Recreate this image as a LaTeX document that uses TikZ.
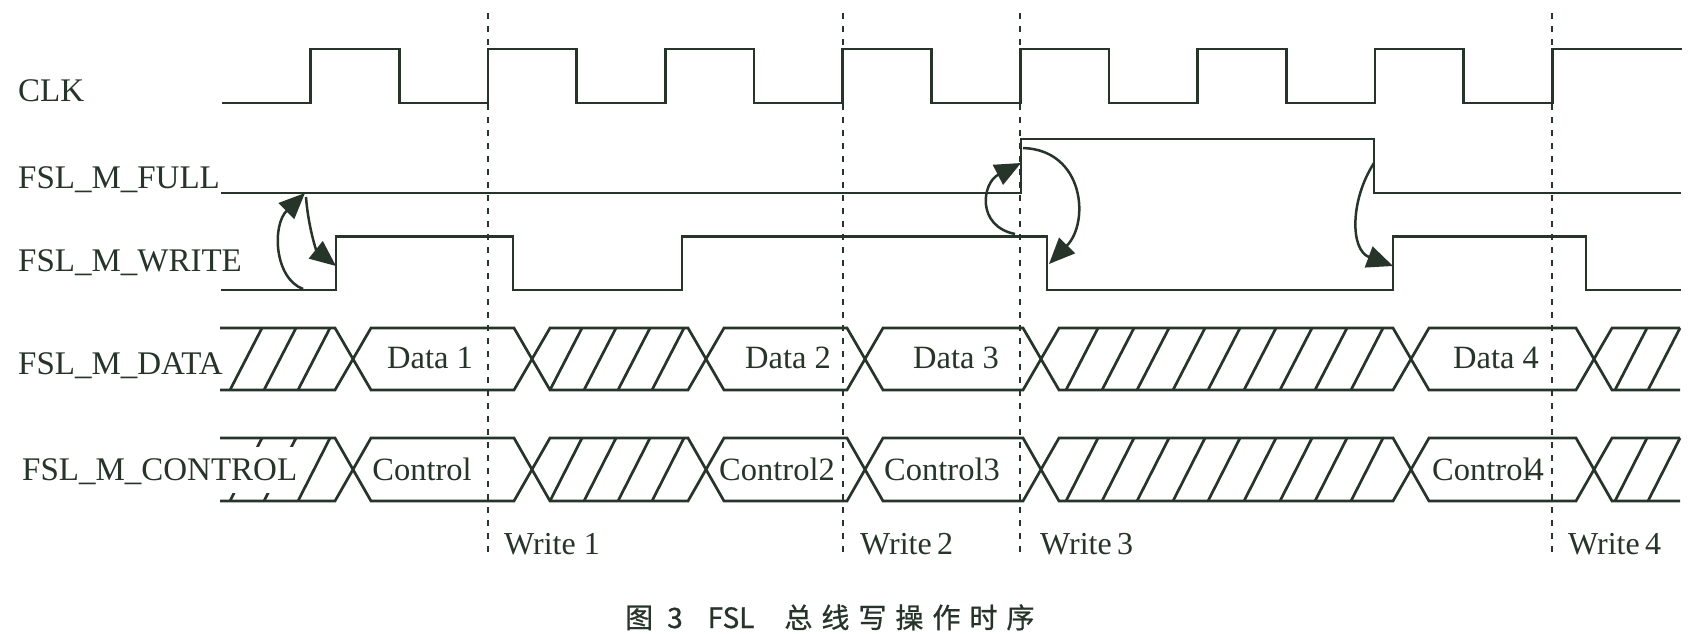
\documentclass[tikz,border=0pt]{standalone}
\usepackage{fontspec}
\setmainfont{Liberation Serif}
\newfontfamily\cjkfont[FakeBold=0.8]{Noto Sans CJK SC}
\usetikzlibrary{arrows.meta}
\definecolor{ink}{RGB}{38,52,42}
\newcommand\busrow[2]{%
  \draw[sig] (220,#1) -- (335,#1) -- (371,#2) -- (514,#2) -- (550,#1) -- (688,#1) -- (724,#2) -- (847,#2) -- (883,#1) -- (1023,#1) -- (1059,#2) -- (1393,#2) -- (1429,#1) -- (1576,#1) -- (1612,#2) -- (1680,#2);
  \draw[sig] (220,#2) -- (335,#2) -- (371,#1) -- (514,#1) -- (550,#2) -- (688,#2) -- (724,#1) -- (847,#1) -- (883,#2) -- (1023,#2) -- (1059,#1) -- (1393,#1) -- (1429,#2) -- (1576,#2) -- (1612,#1) -- (1680,#1);
  \foreach \b in {230,264,298,550,584,618,652,1066,1102,1137,1173,1208,1244,1280,1315,1351,1615,1648}
    \draw[sig] (\b,#2) -- ({\b+32},#1);
}
\begin{document}
\begin{tikzpicture}[x=1pt,y=-1pt,
  sig/.style={draw=ink,line width=2.7pt},
  guide/.style={draw=ink,line width=2.8pt,dash pattern=on 6pt off 7pt},
  lab/.style={text=ink,font=\fontsize{33}{33}\selectfont,inner sep=0pt,anchor=base west},
  val/.style={text=ink,font=\fontsize{32.5}{33}\selectfont,inner sep=0pt,anchor=base},
  wlab/.style={text=ink,font=\fontsize{32}{33}\selectfont,inner sep=0pt,anchor=base west},
  cause/.style={draw=ink,line width=2.5pt,-{Triangle[length=26pt,width=22pt]}},
]
\useasboundingbox (0,0) rectangle (1696,633);
\fill[white] (0,0) rectangle (1696,633);

% dotted write markers
\foreach \x/\n in {488/1,843/2,1020/3,1552/4}{
  \coordinate (g\n top) at (\x,13);
  \coordinate (g\n bot) at (\x,553);
  \draw[guide] (g\n top) -- (g\n bot);
}

% labels
\node[lab] (clk) at (18,101) {CLK};
\node[lab] (full) at (18,188) {FSL\_M\_FULL};
\node[lab] (write) at (18,271) {FSL\_M\_WRITE};
\node[lab] (data) at (18,374) {FSL\_M\_DATA};

% CLK
\draw[sig] (222,103) -| (310.6,49) -| (399.3,103) -| (488,49) -| (576.7,103) -| (665.4,49) -| (754.1,103) -| (842.8,49) -| (931.5,103) -| (1020.2,49) -| (1108.9,103) -| (1197.6,49) -| (1286.3,103) -| (1375,49) -| (1463.7,103) -| (1552.4,49) -- (1682,49);
% FULL
\draw[sig] (221,193) -| (1021,139) -| (1374,193) -- (1681,193);
% WRITE
\draw[sig] (221,290) -| (336,236.5) -| (513,290) -| (682,236.5) -| (1047,290) -| (1393,236.5) -| (1586,290) -- (1681,290);

% buses
\busrow{328}{390}
\busrow{438}{501}
\node[lab,fill=white,text height=33pt,text depth=13pt] (ctrl) at (22,480) {FSL\_M\_CONTROL};

% bus values
\node[val] (d1) at (430,368) {Data 1};
\node[val] (d2) at (788,368) {Data 2};
\node[val] (d3) at (956,368) {Data 3};
\node[val] (d4) at (1496,368) {Data 4};
\node[val] (c1) at (422,480) {Control};
\node[val] (c2) at (777,480) {Control2};
\node[val] (c3) at (942,480) {Control3};
\node[val] (c4) at (1488,480) {Control\kern-4pt4};

% write labels
\node[wlab] (w1) at (504,554) {Write 1};
\node[wlab] (w2) at (860,554) {Write\,2};
\node[wlab] (w3) at (1040,554) {Write\,3};
\node[wlab] (w4) at (1568,554) {Write\,4};

% causality arrows
\coordinate (a1s) at (303,289);
\coordinate (a1e) at (305,193);
\draw[cause] (a1s) .. controls (274,278) and (272,225) .. (a1e);
\coordinate (b1s) at (306,197);
\coordinate (b1e) at (336,266);
\draw[cause] (b1s) .. controls (308,225) and (316,250) .. (b1e);
\coordinate (a2s) at (1015,234);
\coordinate (a2e) at (1021,163);
\draw[cause] (a2s) .. controls (976,226) and (982,183) .. (a2e);
\coordinate (b2s) at (1023,148);
\coordinate (b2e) at (1049,264);
\draw[cause] (b2s) .. controls (1084,150) and (1090,222) .. (b2e);
\coordinate (a3s) at (1374,163);
\coordinate (a3e) at (1393,266);
\draw[cause] (a3s) .. controls (1350,200) and (1350,250) .. (a3e);

% caption
\node[text=ink,inner sep=0pt,anchor=base west] (cap) at (625,628) {\cjkfont\fontsize{28}{28}\selectfont 图\kern14pt 3\kern25pt FSL\kern30pt 总\kern9pt 线\kern9pt 写\kern9pt 操\kern9pt 作\kern9pt 时\kern9pt 序};
\end{tikzpicture}
\end{document}
